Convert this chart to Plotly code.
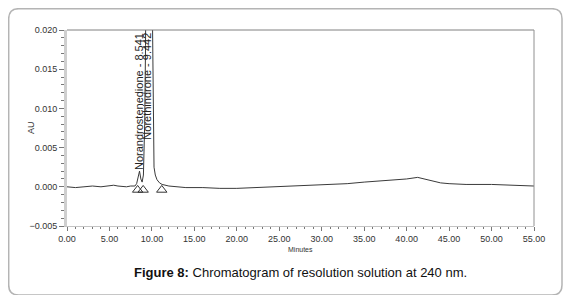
import plotly.graph_objects as go

# ---- data ----
minutes = [0, 1, 2, 3, 4, 5, 5.5, 6, 7, 7.5, 8.0, 8.2, 8.4, 8.541, 8.7, 8.85, 9.0, 9.15,
           9.25, 9.35, 9.442, 9.6, 9.8, 10.0, 10.1, 10.15, 10.25, 10.4, 10.6, 10.9, 11.2,
           12, 14, 16, 18, 20, 22, 25, 28, 30, 33, 35, 38, 40, 41.3, 42.5, 44, 45, 47,
           50, 53, 55]
au = [0.0000, -0.0001, 0.0000, 0.0001, 0.0000, 0.0001, 0.0002, 0.0001, 0.0000, 0.0001,
      0.0001, 0.0004, 0.0012, 0.0020, 0.0010, 0.0006, 0.0015, 0.0080,
      0.0180, 0.0350, 0.0600, 0.0550, 0.0450, 0.0280, 0.0140, 0.0060, 0.0025, 0.0015,
      0.0009, 0.0005, 0.0003,
      0.0001, -0.0001, -0.0001, -0.0002, -0.0002, -0.0001, 0.0000, 0.0002, 0.0003, 0.0004,
      0.0006, 0.0008, 0.0010, 0.0012, 0.0009, 0.0005, 0.0004, 0.0003,
      0.0003, 0.0002, 0.0001]

peak_names = ["Norandrostenedione", "Norethindrone"]
peak_times = [8.541, 9.442]

baseline_marks_t = [8.32, 8.97, 11.16]
baseline_marks_y = [-0.0004, -0.0004, -0.0004]

x_ticks = [0, 5, 10, 15, 20, 25, 30, 35, 40, 45, 50, 55]
y_ticks = [-0.005, 0.000, 0.005, 0.010, 0.015, 0.020]

# ---- layout constants (page pixels; page body has an 8px margin) ----
OFF = 8
W, H = 571 - 2 * OFF, 303 - 2 * OFF
PL, PR, PT, PB = 67, 534, 30, 226          # plot area in page pixels
ML, MR, MT, MB = PL - OFF, W - (PR - OFF), PT - OFF, H - (PB - OFF)
PW, PH = W - ML - MR, H - MT - MB


def px(xp):
    return (xp - OFF - ML) / PW


def py(yp):
    return (H - MB - (yp - OFF)) / PH


FONT = "Liberation Sans, Arial"

fig = go.Figure()
fig.add_trace(go.Scatter(x=minutes, y=au, mode="lines",
                         line=dict(color="#3a3a3a", width=1), hoverinfo="skip",
                         showlegend=False))
fig.add_trace(go.Scatter(x=baseline_marks_t, y=baseline_marks_y, mode="markers",
                         marker=dict(symbol="triangle-up-open", size=9,
                                     color="#333", line=dict(width=1)),
                         showlegend=False, cliponaxis=False))

annotations = []
for name, t in zip(peak_names, peak_times):
    annotations.append(dict(x=t, xref="x", y=py(31), yref="paper", yanchor="top",
                            xanchor="center", text=f"{name} - {t:.3f}",
                            textangle=-90, showarrow=False,
                            font=dict(family=FONT, size=11, color="#222")))
annotations.append(dict(x=px(31), y=py(128), xref="paper", yref="paper", text="AU",
                        xanchor="center", yanchor="middle",
                        textangle=-90, showarrow=False,
                        font=dict(family=FONT, size=9, color="#333")))
annotations.append(dict(x=px(300), y=py(250), xref="paper", yref="paper", text="Minutes",
                        xanchor="center", yanchor="middle", showarrow=False,
                        font=dict(family=FONT, size=7, color="#333")))
annotations.append(dict(x=px(300), y=py(272), xref="paper", yref="paper",
                        xanchor="center", yanchor="middle",
                        text="<b>Figure 8:</b> Chromatogram of resolution solution at 240 nm.",
                        showarrow=False,
                        font=dict(family=FONT, size=13, color="#111")))

# rounded outer frame
x0, y0, x1, y1 = px(8.7), py(8.7), px(562), py(295)
rx, ry = 10 / PW, 10 / PH
path = (f"M {x0+rx},{y0} L {x1-rx},{y0} Q {x1},{y0} {x1},{y0-ry} "
        f"L {x1},{y1+ry} Q {x1},{y1} {x1-rx},{y1} L {x0+rx},{y1} "
        f"Q {x0},{y1} {x0},{y1+ry} L {x0},{y0-ry} Q {x0},{y0} {x0+rx},{y0} Z")
shapes = [
    dict(type="path", path=path, xref="paper", yref="paper",
         line=dict(color="#b4b4b4", width=1.5)),
    dict(type="line", xref="paper", yref="paper", x0=0, x1=1, y0=1, y1=1,
         line=dict(color="#808080", width=1)),
    dict(type="line", xref="paper", yref="paper", x0=1, x1=1, y0=0, y1=1,
         line=dict(color="#909090", width=1)),
]

tickfont = dict(family=FONT, size=9, color="#333")
fig.update_layout(
    width=W, height=H,
    margin=dict(l=ML, r=MR, t=MT, b=MB),
    paper_bgcolor="white", plot_bgcolor="white",
    showlegend=False,
    annotations=annotations, shapes=shapes,
    xaxis=dict(range=[0, 55], tickvals=x_ticks, tickformat=".2f",
               showgrid=False, zeroline=False, showline=True,
               linecolor="#c4c4c4", linewidth=1,
               ticks="outside", ticklen=4, tickcolor="#777", tickwidth=1,
               minor=dict(dtick=1, ticks="outside", ticklen=2, tickcolor="#777"),
               tickfont=tickfont),
    yaxis=dict(range=[-0.005, 0.020], tickvals=y_ticks, tickformat=".3f",
               showgrid=False, zeroline=False, showline=True,
               linecolor="#cfcfcf", linewidth=3,
               ticks="outside", ticklen=5, tickcolor="#777", tickwidth=1,
               minor=dict(dtick=0.001, ticks="outside", ticklen=3, tickcolor="#777"),
               tickfont=tickfont),
)

fig.write_html("out.html")
